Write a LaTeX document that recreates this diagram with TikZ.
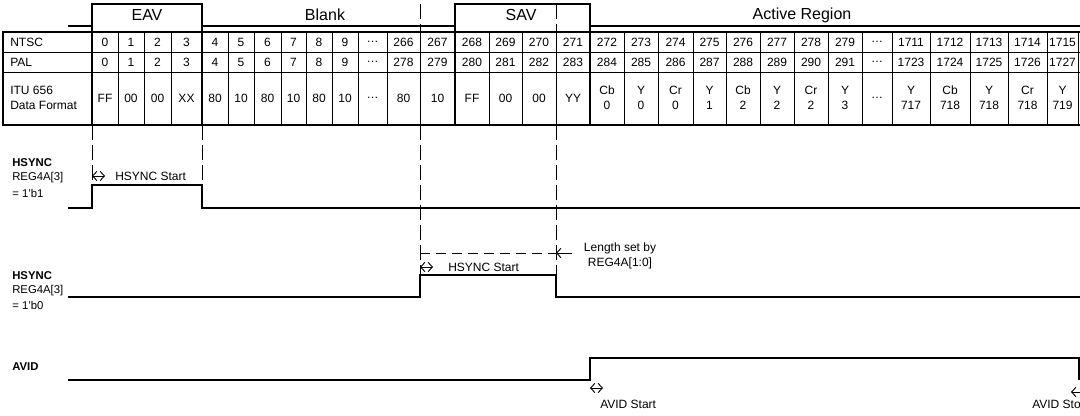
\documentclass[tikz,border=0pt]{standalone}
\usepackage{fontspec}
\setmainfont{Liberation Sans}
\usetikzlibrary{arrows.meta}

\begin{document}
\begin{tikzpicture}[x=0.75pt, y=-0.75pt, line cap=butt, line join=miter,
    wave/.style={line width=2pt},
    grid/.style={line width=0.7pt},
    frame/.style={line width=2pt},
    guide/.style={line width=0.7pt, dash pattern=on 11pt off 4pt},
    cell/.style={font=\fontsize{9}{11.25}\selectfont, inner sep=0pt, align=center},
    title/.style={font=\fontsize{12}{14}\selectfont, inner sep=0pt},
    note/.style={font=\fontsize{9}{11.25}\selectfont, inner sep=0pt},
    sig/.style={font=\fontsize{8.5}{11}\selectfont, inner sep=0pt, anchor=west},
    tick/.style={line width=0.7pt, {Straight Barb[length=3.2pt,width=7pt]}-{Straight Barb[length=3.2pt,width=7pt]}},
    back/.style={line width=0.7pt, {Straight Barb[length=3.2pt,width=7pt]}-}]
    \path[use as bounding box] (0,0) rectangle (1080,416);
    \clip (0,0) rectangle (1080,416);
    % region titles
    \node[title] (teav) at (147,15) {EAV};
    \node[title] (tblank) at (325,15) {Blank};
    \node[title] (tsav) at (521,15) {SAV};
    \node[title] (tact) at (802,15) {Active Region};
    % timing reference marks
    \draw[guide] (420,4) -- (420,32);
    \draw[guide] (556,4) -- (556,32);
    \draw[guide] (92,125) -- (92,185);
    \draw[guide] (202,125) -- (202,185);
    \draw[guide] (420,125) -- (420,275);
    \draw[guide] (556,125) -- (556,275);
    % region waveform
    \draw[wave] (68,26) -- (92,26) -- (92,4) -- (202,4) -- (202,26) -- (455,26) -- (455,4) -- (590,4) -- (590,26) -- (1080,26);
    \foreach \x in {92,202,455,590} \draw[wave] (\x,24) -- (\x,32);
    % table
    \node[cell, anchor=west] (lntsc) at (10,42) {NTSC};
    \node[cell, anchor=west] (lpal) at (10,62) {PAL};
    \node[cell, anchor=west, align=left] (litu) at (10,98) {ITU 656\\Data Format};
    \foreach \l/\r/\n/\p/\d [count=\k] in {
        92/118/0/0/FF, 118/144/1/1/00, 144/171/2/2/00, 171/202/3/3/XX,
        202/228/4/4/80, 228/254/5/5/10, 254/281/6/6/80, 281/306/7/7/10, 306/332/8/8/80, 332/358/9/9/10,
        358/387/\ldots/\ldots/\ldots, 387/420/266/278/80, 420/455/267/279/10,
        455/489/268/280/FF, 489/522/269/281/00, 522/556/270/282/00, 556/590/271/283/YY,
        590/624/272/284/{Cb\\0}, 624/658/273/285/{Y\\0}, 658/693/274/286/{Cr\\0}, 693/726/275/287/{Y\\1},
        726/760/276/288/{Cb\\2}, 760/794/277/289/{Y\\2}, 794/828/278/290/{Cr\\2}, 828/862/279/291/{Y\\3},
        862/892/\ldots/\ldots/\ldots,
        892/930/1711/1723/{Y\\717}, 930/970/1712/1724/{Cb\\718}, 970/1008/1713/1725/{Y\\718},
        1008/1047/1714/1726/{Cr\\718}, 1047/1078/1715/1727/{Y\\719}} {
        \node[cell] (ntsc\k) at ({(\l+\r)/2},42) {\n};
        \node[cell] (pal\k) at ({(\l+\r)/2},62) {\p};
        \node[cell] (itu\k) at ({(\l+\r)/2},98) {\d};
        \draw[grid] (\r,32) -- (\r,125);
    }
    \draw[grid] (3,52) -- (1080,52);
    \draw[grid] (3,72) -- (1080,72);
    \draw[frame] (1080,32) -- (3,32) -- (3,125) -- (1080,125);
    \foreach \x in {92,202,455,590} \draw[frame] (\x,32) -- (\x,125);
    % HSYNC, REG4A[3] = 1'b1
    \node[sig] (hs1a) at (12,163) {\bfseries HSYNC};
    \node[sig] (hs1b) at (12,178) {REG4A[3]};
    \node[sig] (hs1c) at (12,193) {= 1'b1};
    \draw[wave] (68,208) -- (92,208) -- (92,185) -- (202,185) -- (202,208) -- (1080,208);
    \coordinate (hs1s) at (92,176);
    \draw[tick] (hs1s) -- ++(13,0);
    \node[note, anchor=west] (hs1t) at (115,176) {HSYNC Start};
    % HSYNC, REG4A[3] = 1'b0
    \node[sig] (hs0a) at (12,276) {\bfseries HSYNC};
    \node[sig] (hs0b) at (12,291) {REG4A[3]};
    \node[sig] (hs0c) at (12,305) {= 1'b0};
    \draw[wave] (68,297) -- (420,297) -- (420,275) -- (556,275) -- (556,297) -- (1080,297);
    \coordinate (hs0s) at (420,267);
    \coordinate (hs0e) at (556,253);
    \draw[tick] (hs0s) -- ++(13,0);
    \node[note, anchor=west] (hs0t) at (448,267) {HSYNC Start};
    \draw[line width=0.7pt, dash pattern=on 7.5pt off 4.5pt] (420,253) -- (hs0e);
    \draw[back] (hs0e) -- ++(16,0);
    \node[note, align=center] (len) at (620,256) {Length set by\\REG4A[1:0]};
    % AVID
    \node[sig] (avl) at (12,367) {\bfseries AVID};
    \draw[wave] (68,380) -- (590,380) -- (590,358) -- (1079,358) -- (1079,380);
    \coordinate (avs) at (590,388);
    \coordinate (ave) at (1071,392);
    \draw[tick] (avs) -- ++(13,0);
    \node[note, anchor=west] (avst) at (600,404) {AVID Start};
    \draw[back] (ave) -- ++(12,0);
    \node[note, anchor=west] (avet) at (1032,406) {AVID Stop};
\end{tikzpicture}
\end{document}
